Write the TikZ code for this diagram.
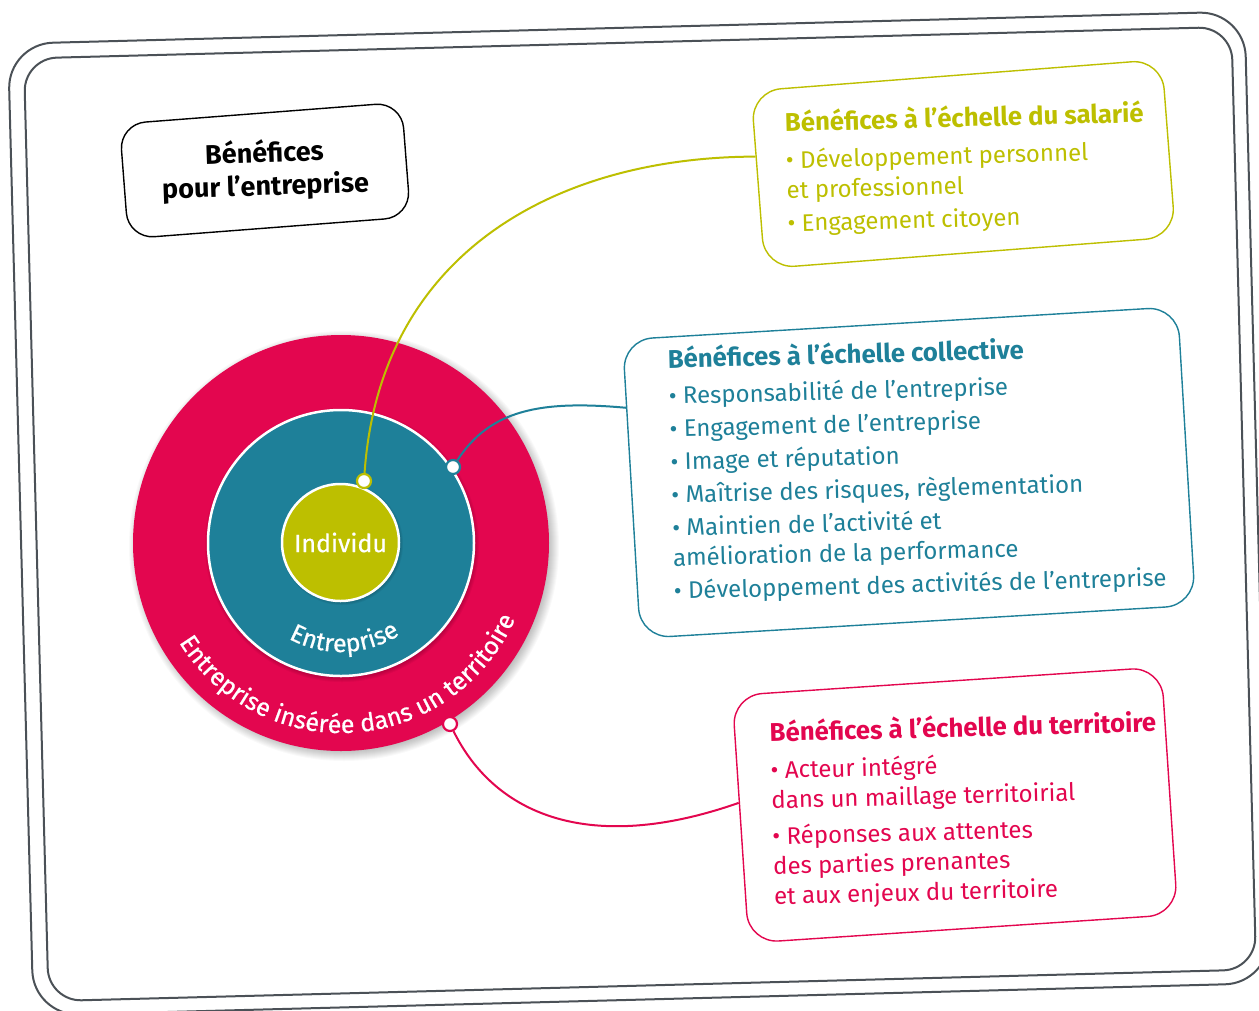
\documentclass[tikz,border=0pt]{standalone}
\usepackage{fontspec}
\setmainfont{Fira Sans}
\newfontfamily\medfont{Fira Sans}[FakeBold=0.6]
\usetikzlibrary{calc,decorations.text}
\definecolor{crouge}{HTML}{E3064F}
\definecolor{cteal}{HTML}{1E8099}
\definecolor{cvert}{HTML}{BDBF00}
\definecolor{cframe}{HTML}{4B5157}
\newcommand\bodysize{\fontsize{24}{30}\selectfont}
\newcommand\titlesize{\bfseries\fontsize{25.7}{30}\selectfont}
\newcommand\circfont{\medfont\fontsize{25}{30}\selectfont}
\tikzset{
  framebox/.style={draw=cframe, line width=2pt, inner sep=0pt},
  boxstyle/.style={draw=#1, fill=white, line width=1.4pt, rounded corners=30pt, inner sep=0pt},
  boxtext/.style={text=#1, align=left, inner sep=0pt, anchor=west, font=\bodysize, rotate=1.5},
  dotnode/.style={circle, draw=#1, fill=white, line width=2.2pt, minimum size=14pt, inner sep=0pt},
  conn/.style={draw=#1, line width=2pt},
}
\begin{document}
\begin{tikzpicture}[x=1pt,y=1pt]
\useasboundingbox (0,0) rectangle (1259,-1010);
\fill[white] (0,0) rectangle (1259,-1010);
% frames
\node[framebox, rounded corners=45pt, minimum width=1237pt, minimum height=972pt, rotate=1.5] (outer) at (639,-513.5) {};
\node[framebox, rounded corners=33pt, minimum width=1208pt, minimum height=943pt, rotate=1.5] (inner) at (640,-514) {};
% box 1
\node[boxstyle=black, rounded corners=26pt, minimum width=283pt, minimum height=115pt, rotate=4.4] (box1) at (265,-170.5) {};
\node[rotate=1.9, align=center, inner sep=0pt, font=\bfseries\fontsize{27}{33}\selectfont] (t1) at (box1.center) {Bénéfices\\pour l’entreprise};
% box 2
\node[boxstyle=cvert, minimum width=412pt, minimum height=178pt, rotate=4.4] (box2) at (963.3,-164) {};
\node[boxtext=cvert] (t2) at ($($(box2.west)!32pt!(box2.east)$)+(-3,4)$) {%
{\titlesize Bénéfices à l’échelle du salarié}\\[7pt]
• Développement personnel\\
et professionnel\\[3pt]
• Engagement citoyen};
% box 3
\node[boxstyle=cteal, minimum width=556pt, minimum height=299pt, rotate=3.4] (box3) at (909,-472.5) {};
\node[boxtext=cteal] (t3) at ($($(box3.west)!44pt!(box3.east)$)+(-4,11)$) {%
{\titlesize Bénéfices à l’échelle collective}\\[6pt]
• Responsabilité de l’entreprise\\[3pt]
• Engagement de l’entreprise\\[3pt]
• Image et réputation\\[3pt]
• Maîtrise des risques, règlementation\\[3pt]
• Maintien de l’activité et\\
amélioration de la performance\\[3pt]
• Développement des activités de l’entreprise};
% box 4
\node[boxstyle=crouge, minimum width=430pt, minimum height=248pt, rotate=3.8] (box4) at (955,-805) {};
\node[boxtext=crouge] (t4) at ($($(box4.west)!35pt!(box4.east)$)+(-3,2)$) {%
{\titlesize Bénéfices à l’échelle du territoire}\\[7pt]
• Acteur intégré\\
dans un maillage territoirial\\[6pt]
• Réponses aux attentes\\
des parties prenantes\\
et aux enjeux du territoire};
% circles
\coordinate (c) at (341,-543);
\foreach \i in {0,...,15} \fill[black, opacity=0.025] (344,-546) circle[radius=200+\i];
\node[circle, fill=crouge, minimum size=416pt, inner sep=0pt] (terr) at (c) {};
\foreach \i in {0,...,9} \fill[black, opacity=0.04] (342,-545) circle[radius=128+\i];
\node[circle, fill=cteal, draw=white, line width=2.5pt, minimum size=266pt, inner sep=0pt] (entr) at (c) {};
\foreach \i in {0,...,7} \fill[black, opacity=0.05] (342,-544) circle[radius=54+\i];
\node[circle, fill=cvert, draw=white, line width=2.5pt, minimum size=117pt, inner sep=0pt, text=white, font=\medfont\fontsize{25}{30}\selectfont] (indiv) at (340.5,-542.5) {Individu};
% curved labels
\path[decorate, decoration={text along path, text align=center, text={|\circfont\color{white}|Entreprise}}]
  (c) ++(212:109) arc[start angle=212, end angle=332, radius=109];
\path[decorate, decoration={text along path, text align=center, text={|\circfont\color{white}|Entreprise insérée dans un territoire}}]
  (c) ++(194:190) arc[start angle=194, end angle=354, radius=190];
% dots
\node[dotnode=cvert] (d1) at (364,-481) {};
\node[dotnode=cteal] (d2) at (453,-467) {};
\node[dotnode=crouge] (d3) at (450,-724) {};
% connectors
\draw[conn=cvert] (d1) .. controls (380,-250) and (560,-157) .. ($(box2.north west)!0.37!(box2.south west)$);
\draw[conn=cteal] (d2) .. controls (490,-410) and (540,-400) .. ($(box3.north west)!0.229!(box3.south west)$);
\draw[conn=crouge] (d3) .. controls (495,-815) and (590,-855) .. ($(box4.north west)!0.434!(box4.south west)$);
\end{tikzpicture}
\end{document}
